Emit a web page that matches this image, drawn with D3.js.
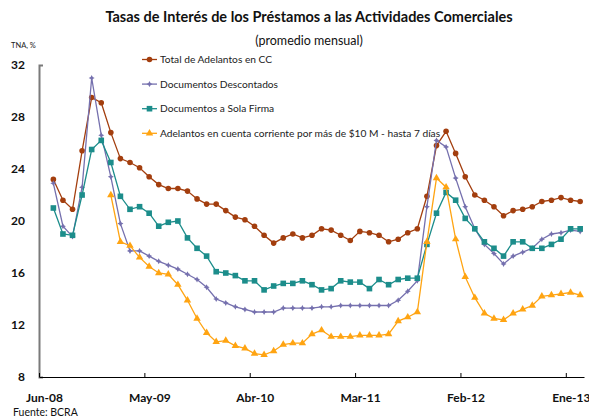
<!DOCTYPE html>
<html>
<head>
<meta charset="utf-8">
<script src="https://cdn.jsdelivr.net/npm/d3@7"></script>
<style>
  body { margin: 0; background: #fff; }
  svg { font-family: Lato, "Open Sans", sans-serif; display: block; }
  .line { fill: none; stroke-width: 1.3px; }
</style>
</head>
<body>
<script>
// Tasas de interés de préstamos a actividades comerciales, Jun-08 a Ene-13 (mensual)
var tickLabels = ["Jun-08", "May-09", "Abr-10", "Mar-11", "Feb-12", "Ene-13"];
var yTicks = [8, 12, 16, 20, 24, 28, 32];

var totalCC = [23.2, 21.6, 20.9, 25.4, 29.5, 29.1, 26.8, 24.8, 24.5, 24.1, 23.4, 22.8, 22.5, 22.5, 22.3, 21.7,
	21.3, 21.3, 20.8, 20.3, 20.1, 19.6, 18.9, 18.3, 18.7, 19.0, 18.7, 18.9, 19.4, 19.3, 18.9, 18.5,
	19.2, 19.1, 18.9, 18.4, 18.6, 19.1, 19.4, 21.9, 25.8, 26.9, 25.2, 23.4, 22.0, 21.6, 21.1, 20.4,
	20.8, 20.9, 21.1, 21.5, 21.6, 21.8, 21.6, 21.5];

var descontados = [22.9, 19.6, 18.8, 22.6, 31.0, 26.6, 23.4, 19.8, 17.7, 17.7, 17.3, 16.9, 16.6, 16.3, 15.9, 15.5,
	14.9, 14.0, 13.7, 13.4, 13.2, 13.0, 13.0, 13.0, 13.3, 13.3, 13.3, 13.3, 13.4, 13.4, 13.5, 13.5,
	13.5, 13.5, 13.5, 13.5, 13.9, 14.6, 15.4, 21.1, 26.2, 25.7, 23.3, 21.1, 19.4, 18.2, 17.5, 16.7,
	17.3, 17.6, 17.9, 18.6, 19.0, 19.1, 19.3, 19.2];

var solaFirma = [21.0, 19.0, 18.9, 22.0, 25.5, 26.2, 24.5, 21.9, 20.9, 21.1, 20.6, 19.6, 19.9, 20.0, 18.7, 17.9,
	17.3, 16.1, 16.0, 15.8, 15.4, 15.4, 14.7, 15.0, 15.2, 15.2, 15.4, 15.1, 14.7, 14.8, 15.4, 15.3,
	15.3, 14.8, 15.5, 15.1, 15.5, 15.6, 15.6, 18.2, 20.6, 22.2, 21.6, 20.2, 19.4, 18.4, 17.9, 17.3,
	18.4, 18.4, 17.9, 17.9, 18.2, 18.6, 19.4, 19.4];

var adelantos10M = [null, null, null, null, null, null, 22.0, 18.4, 18.1, 17.2, 16.5, 16.0, 15.9, 15.1, 13.9, 12.5,
	11.4, 10.7, 10.8, 10.4, 10.2, 9.8, 9.7, 10.0, 10.5, 10.6, 10.6, 11.3, 11.6, 11.1, 11.1, 11.1,
	11.2, 11.2, 11.2, 11.3, 12.3, 12.6, 13.0, 18.4, 23.3, 22.6, 18.6, 15.7, 14.1, 12.9, 12.5, 12.4,
	12.9, 13.2, 13.5, 14.2, 14.3, 14.4, 14.5, 14.3];

var series = [
	{name: "Total de Adelantos en CC", values: totalCC, color: "#A33E0E", mark: "circle"},
	{name: "Documentos Descontados", values: descontados, color: "#7570AE", mark: "star"},
	{name: "Documentos a Sola Firma", values: solaFirma, color: "#1C8D8B", mark: "square"},
	{name: "Adelantos en cuenta corriente por más de $10 M - hasta 7 días", values: adelantos10M, color: "#FFA412", mark: "triangle"}
];

var width = 589,
	height = 417,
	svg = d3.select("body").append("svg")
		.attr("width", width)
		.attr("height", height);

var x = d3.scaleLinear().domain([-1.5, 55.4]).range([39, 584]),
	y = d3.scaleLinear().domain([8, 32]).range([377, 65]);

var line = d3.line()
	.defined(function(d){ return d != null; })
	.x(function(d, i){ return x(i); })
	.y(function(d){ return y(d); });

function starPath(s){
	var k = 0.35 * s;
	return "M0," + (-s) + "L" + k + "," + (-k) + "L" + s + ",0L" + k + "," + k +
		"L0," + s + "L" + (-k) + "," + k + "L" + (-s) + ",0L" + (-k) + "," + (-k) + "Z";
}

function drawMark(g, kind, color){
	if (kind == "circle") {
		g.append("circle").attr("r", 2.8).attr("fill", color);
	} else if (kind == "square") {
		g.append("rect").attr("x", -2.8).attr("y", -2.8).attr("width", 5.6).attr("height", 5.6).attr("fill", color);
	} else if (kind == "triangle") {
		g.append("path").attr("d", d3.symbol(d3.symbolTriangle, 24)()).attr("fill", color);
	} else {
		g.append("path").attr("d", starPath(3)).attr("fill", color);
	}
}

// titles
svg.append("text")
	.attr("x", 309).attr("y", 22)
	.attr("text-anchor", "middle")
	.style("font-size", "14.5px").style("font-weight", "bold").attr("fill", "#111")
	.text("Tasas de Interés de los Préstamos a las Actividades Comerciales");

svg.append("text")
	.attr("x", 309).attr("y", 44.5)
	.attr("text-anchor", "middle")
	.style("font-size", "12.5px").attr("fill", "#111")
	.text("(promedio mensual)");

svg.append("text")
	.attr("x", 11).attr("y", 47.5)
	.style("font-size", "7.5px").attr("fill", "#222")
	.text("TNA, %");

// axes
var yAxis = svg.append("g")
	.attr("transform", "translate(39,0)")
	.call(d3.axisLeft(y).tickValues(yTicks).tickSizeInner(0).tickSizeOuter(-4).tickPadding(14));
yAxis.select(".domain").attr("stroke", "#7a7a7a").attr("stroke-width", 2);
yAxis.selectAll("text")
	.style("font-size", "12px").style("font-weight", "bold")
	.style("font-family", "Lato, sans-serif").attr("fill", "#111");

var xAxis = svg.append("g")
	.attr("transform", "translate(0,377)")
	.call(d3.axisBottom(x)
		.tickValues(tickLabels.map(function(d, i){ return -1.5 + 11 * i; }))
		.tickFormat(function(d, i){ return tickLabels[i]; })
		.tickSizeInner(-4).tickSizeOuter(0));
xAxis.select(".domain").attr("stroke", "#000").attr("stroke-width", 1.2);
xAxis.selectAll(".tick line").attr("stroke", "#000");
xAxis.selectAll("text")
	.attr("x", 5).attr("y", 24.5).attr("dy", 0)
	.style("font-size", "12px").style("font-weight", "bold")
	.style("font-family", "Lato, sans-serif").attr("fill", "#111");

// series
var s = svg.selectAll(".serie")
	.data(series)
	.enter().append("g")
		.attr("class", "serie");

s.append("path")
	.attr("class", "line")
	.attr("d", function(d){ return line(d.values); })
	.style("stroke", function(d){ return d.color; });

s.each(function(d){
	var g = d3.select(this);
	d.values.forEach(function(v, i){
		if (v == null) return;
		var m = g.append("g").attr("transform", "translate(" + x(i) + "," + y(v) + ")");
		drawMark(m, d.mark, d.color);
	});
});

// legend
var legend = svg.selectAll(".legend")
	.data(series)
	.enter().append("g")
		.attr("class", "legend")
		.attr("transform", function(d, i){ return "translate(142," + (59.5 + i * 24.6) + ")"; });

legend.append("line")
	.attr("x1", 0).attr("x2", 15)
	.attr("stroke", function(d){ return d.color; })
	.attr("stroke-width", 1.3);

legend.append("g")
	.attr("transform", "translate(7.5,0)")
	.each(function(d){ drawMark(d3.select(this), d.mark, d.color); });

legend.append("text")
	.attr("x", 18).attr("dy", "0.35em")
	.style("font-size", "10.2px").attr("fill", "#222")
	.text(function(d){ return d.name; });

svg.append("text")
	.attr("x", 13).attr("y", 415.5)
	.style("font-size", "10.5px").attr("fill", "#111")
	.text("Fuente: BCRA");
</script>
</body>
</html>
